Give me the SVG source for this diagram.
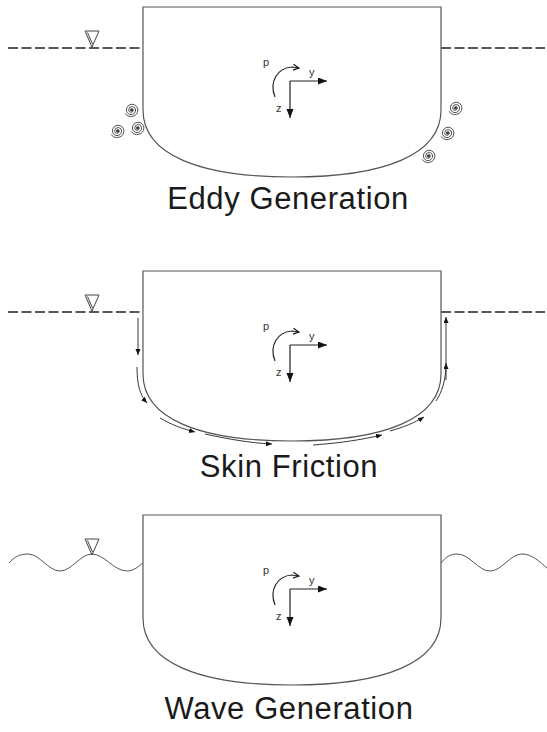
<svg xmlns="http://www.w3.org/2000/svg" xmlns:xlink="http://www.w3.org/1999/xlink" width="547" height="732" viewBox="0 0 547 732">
  <style>
    .hull { fill: none; stroke: #555; stroke-width: 1.2; }
    .wl { fill: none; stroke: #222; stroke-width: 1.3; stroke-dasharray: 10 3.5; }
    .wave { fill: none; stroke: #555; stroke-width: 1; }
    .axis { fill: none; stroke: #222; stroke-width: 1.2; }
    .lbl { font-family: "Liberation Sans", Arial, sans-serif; font-size: 11px; fill: #333333; }
    .title { font-family: "Liberation Sans", Arial, sans-serif; font-size: 31px; fill: #1a1a1a; letter-spacing: 0.6px; text-anchor: middle; }
    .flow { fill: none; stroke: #222; stroke-width: 0.9; marker-end: url(#head); }
    .sym { fill: none; stroke: #444; stroke-width: 1; }
    .eddy { fill: none; stroke: #444; stroke-width: 0.8; }
  </style>
  <defs>
    <marker id="head" markerUnits="userSpaceOnUse" markerWidth="7" markerHeight="6" refX="6" refY="2.5" orient="auto">
      <path d="M0,0 L6,2.5 L0,5 Z" fill="#111"/>
    </marker>
    <marker id="axhead" markerUnits="userSpaceOnUse" markerWidth="10" markerHeight="8" refX="9" refY="3.5" orient="auto">
      <path d="M0,0 L9,3.5 L0,7 Z" fill="#111"/>
    </marker>
    <marker id="rothead" markerUnits="userSpaceOnUse" markerWidth="8" markerHeight="8" refX="6" refY="3" orient="auto">
      <path d="M0,0 L6,3 L0,6" fill="none" stroke="#111" stroke-width="1.1"/>
    </marker>
    <!-- hull section: flat deck, straight sides, rounded bilge -->
    <path id="hull" class="hull" d="M143,7 H441 V110 C441,155 384,177 292,177 C200,177 143,155 143,110 Z"/>
    <!-- body axes with roll arrow -->
    <g id="axes">
      <path class="axis" d="M290,81 H327" marker-end="url(#axhead)"/>
      <path class="axis" d="M290,81 V118" marker-end="url(#axhead)"/>
      <path class="axis" d="M275,97 C269,82 277,68 292,67 L299,68" marker-end="url(#rothead)"/>
      <text class="lbl" x="263" y="66">p</text>
      <text class="lbl" x="309" y="76">y</text>
      <text class="lbl" x="276" y="112">z</text>
    </g>
    <!-- free-surface symbol -->
    <g id="nabla">
      <path class="sym" d="M85,31 H99 L92,47 Z"/>
      <path class="sym" d="M87.5,32.5 L92.5,44"/>
    </g>
    <!-- small vortex spiral -->
    <g id="eddy">
      <path class="eddy" d="M0,0 A1,1 0 0 1 2,0 A2,2 0 0 1 -2,0 A3,3 0 0 1 4,0 A4,4 0 0 1 -4,0 A5,5 0 0 1 6,0 A6,6 0 0 1 -5,3"/>
      <circle cx="0.5" cy="0" r="1.3" fill="#333"/>
    </g>
  </defs>

  <!-- Eddy generation -->
  <g id="eddy-panel">
    <path class="wl" d="M8,48 H143 M441,48 H545"/>
    <use xlink:href="#nabla"/>
    <use xlink:href="#hull"/>
    <use xlink:href="#axes"/>
    <g id="eddies">
      <use xlink:href="#eddy" transform="translate(131,110) scale(1.15)"/>
      <use xlink:href="#eddy" transform="translate(117,131) scale(1.15)"/>
      <use xlink:href="#eddy" transform="translate(137,128) scale(1.15)"/>
      <use xlink:href="#eddy" transform="translate(455,108) scale(1.15)"/>
      <use xlink:href="#eddy" transform="translate(447,133) scale(1.15)"/>
      <use xlink:href="#eddy" transform="translate(428,156) scale(1.15)"/>
    </g>
    <text class="title" x="288" y="209">Eddy Generation</text>
  </g>

  <!-- Skin friction -->
  <g id="friction-panel">
    <path class="wl" d="M8,312 H143 M441,312 H545"/>
    <use xlink:href="#nabla" y="264"/>
    <use xlink:href="#hull" y="264"/>
    <use xlink:href="#axes" y="264"/>
    <g id="flow-arrows">
      <path class="flow" d="M138,318 V355"/>
      <path class="flow" d="M137,367 C137,385 140,395 147,403"/>
      <path class="flow" d="M160,418 C172,425 183,429 195,432"/>
      <path class="flow" d="M205,434 C228,439 250,443 272,444"/>
      <path class="flow" d="M313,445 C340,443 360,440 382,435"/>
      <path class="flow" d="M390,431 C404,427 414,423 424,417"/>
      <path class="flow" d="M436,401 C442,392 446,380 446,363"/>
      <path class="flow" d="M446,380 V317"/>
    </g>
    <text class="title" x="289" y="477">Skin Friction</text>
  </g>

  <!-- Wave generation -->
  <g id="wave-panel">
    <path class="wave" d="M9,563 C14,557 20,554 28,554 C40,554 48,571 60,571 C72,571 80,554 92,554 C104,554 114,571 127,571 C134,571 139,566 143,563"/>
    <path class="wave" d="M441,563 C446,557 450,554 457,554 C470,554 478,571 490,571 C502,571 510,554 522,554 C532,554 540,562 547,568"/>
    <use xlink:href="#nabla" y="508"/>
    <use xlink:href="#hull" y="508"/>
    <use xlink:href="#axes" y="508"/>
    <text class="title" x="289" y="719">Wave Generation</text>
  </g>
</svg>
